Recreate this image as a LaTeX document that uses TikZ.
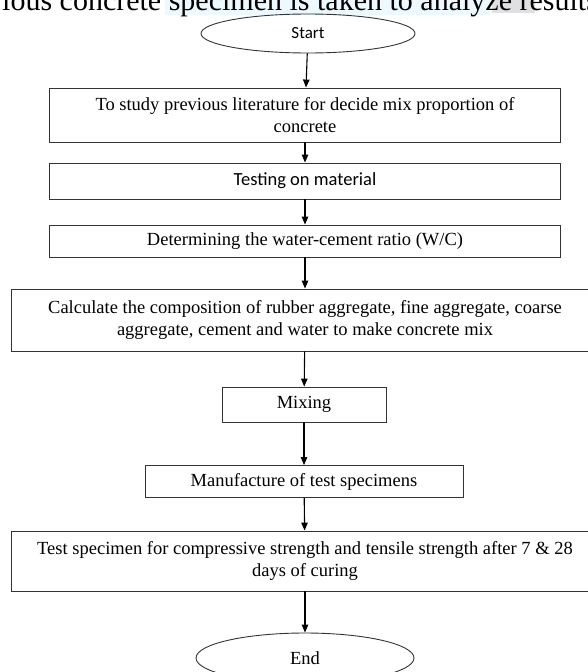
\documentclass[tikz,border=0pt]{standalone}
\usepackage{fontspec}
\setmainfont{Liberation Serif}
\newfontfamily\calibri{Carlito}
\usetikzlibrary{arrows.meta,shapes.geometric}

\begin{document}
\begin{tikzpicture}
[x=1pt,y=-1pt,
 boxdecorate/.style={shape=rectangle,draw=black!80,line width=0.9pt,inner sep=0pt,
   align=center,font=\fontsize{18.5}{22}\selectfont},%
 ovaldecorate/.style={shape=ellipse,draw=black!80,line width=0.9pt,inner sep=0pt},%
 linedecorate/.style={-{Triangle[length=8pt,width=6.5pt]},line width=1.1pt}]
%% page frame
\useasboundingbox (0,0) rectangle (587,672);
%% line left over from the page text
\fill[cyan!7] (165,0) rectangle (490,15);
\fill[blue!10!black!12] (492,0) rectangle (535,13);
\node (caption) at (2,10.5) [anchor=base west,inner sep=0pt,font=\fontsize{30}{30}\selectfont]
  {ious concrete specimen is taken to analyze results};
%% start and end
\node (start) at (308,33.5) [ovaldecorate,minimum width=214,minimum height=39]
  {\calibri\fontsize{17}{20}\selectfont Start};
\node (end) at (305,658) [ovaldecorate,minimum width=218,minimum height=50]
  {\fontsize{18.5}{22}\selectfont End};
%% steps
\foreach \nodename/\x/\y/\w/\h/\txt in {
  b1/305/115/511/54/{To study previous literature for decide mix proportion of\\concrete},
  b2/305/181/511/36/{\calibri Testing on material},
  b3/305/241/511/32/{Determining the water-cement ratio (W/C)},
  b4/305/320/588/62/{Calculate the composition of rubber aggregate, fine aggregate, coarse\\aggregate, cement and water to make concrete mix},
  b5/304/404.5/164/35/{Mixing},
  b6/304/481.5/318/32/{Manufacture of test specimens},
  b7/305/561/588/60/{Test specimen for compressive strength and tensile strength after 7 \& 28\\days of curing}}
{
  \node (\nodename) at (\x,\y) [boxdecorate,minimum width=\w,minimum height=\h] {\txt};
}
%% arrows
\path
\foreach \startnode/\endnode in {start/b1, b1/b2, b2/b3, b3/b4, b4/b5, b5/b6, b6/b7, b7/end} {
  (\startnode) edge[linedecorate] (\endnode)
};
\end{tikzpicture}
\end{document}
